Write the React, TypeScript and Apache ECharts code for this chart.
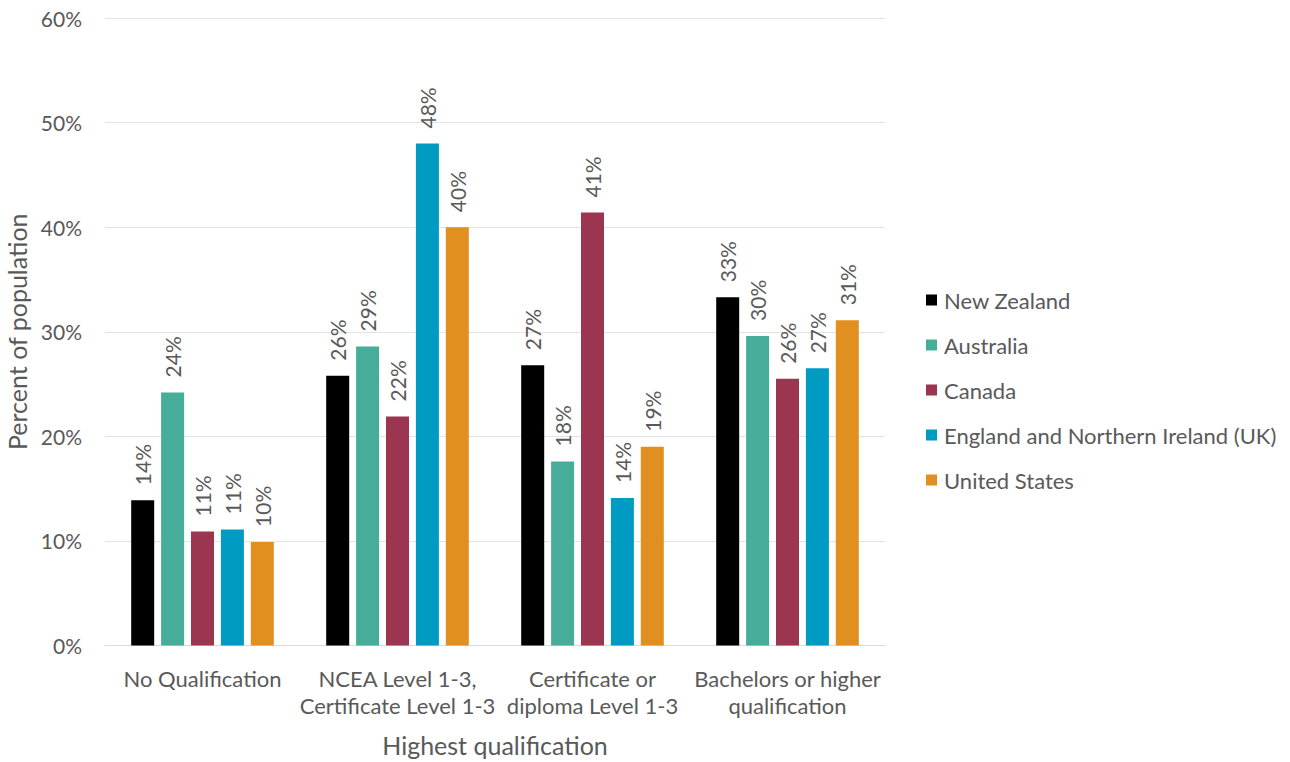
import React, { useEffect, useRef } from "react";
import * as echarts from "echarts";

const categories = [
  "No Qualification",
  "NCEA Level 1-3,\nCertificate Level 1-3",
  "Certificate or\ndiploma Level 1-3",
  "Bachelors or higher\nqualification",
];
const seriesNames = [
  "New Zealand",
  "Australia",
  "Canada",
  "England and Northern Ireland (UK)",
  "United States",
];
const newZealand = [13.9, 25.8, 26.8, 33.3];
const australia = [24.2, 28.6, 17.6, 29.6];
const canada = [10.9, 21.9, 41.4, 25.5];
const england = [11.1, 48.0, 14.1, 26.5];
const unitedStates = [9.9, 40.0, 19.0, 31.1];
const seriesValues = [newZealand, australia, canada, england, unitedStates];
const colors = ["#000000", "#47ad9b", "#9c3550", "#009bc3", "#e1901f"];
const yTicks = [0, 10, 20, 30, 40, 50, 60];

const TEXT = "#595959";
const FONT = "Lato";

export default function App() {
  const ref = useRef<HTMLDivElement>(null);
  useEffect(() => {
    if (!ref.current) return;
    const chart = echarts.init(ref.current, undefined, { renderer: "svg" });
    chart.setOption({
      animation: false,
      textStyle: { fontFamily: FONT },
      grid: { left: 105, right: 405, top: 18, bottom: 116.5, containLabel: false, outerBoundsMode: "none" },
      legend: {
        orient: "vertical",
        left: 926,
        top: 289,
        padding: 0,
        itemWidth: 11,
        itemHeight: 11,
        itemGap: 23,
        icon: "rect",
        textStyle: { color: TEXT, fontSize: 22, lineHeight: 20, fontFamily: FONT, padding: [0, 0, 0, 2] },
        data: seriesNames,
      },
      xAxis: {
        type: "category",
        data: categories,
        name: "Highest qualification",
        nameLocation: "middle",
        nameGap: 87,
        nameTextStyle: { color: TEXT, fontSize: 25, fontFamily: FONT },
        axisLine: { lineStyle: { color: "#d9d9d9", width: 1 } },
        axisTick: { show: false },
        axisLabel: { color: TEXT, fontSize: 22, lineHeight: 27, margin: 19, fontFamily: FONT, interval: 0 },
      },
      yAxis: {
        type: "value",
        min: yTicks[0],
        max: yTicks[yTicks.length - 1],
        interval: 10,
        name: "Percent of population",
        nameLocation: "middle",
        nameRotate: 90,
        nameGap: 75,
        nameTextStyle: { color: TEXT, fontSize: 25, fontFamily: FONT },
        axisLine: { show: false },
        axisTick: { show: false },
        splitLine: { lineStyle: { color: "#e3e3e3", width: 1 } },
        axisLabel: { color: TEXT, fontSize: 21, margin: 23, fontFamily: FONT, formatter: (v: number) => v + "%" },
      },
      series: seriesNames.map((name, i) => ({
        name,
        type: "bar",
        data: seriesValues[i],
        barWidth: 23,
        barGap: "30%",
        itemStyle: { color: colors[i] },
        label: {
          show: true,
          position: "top",
          rotate: 90,
          align: "left",
          verticalAlign: "middle",
          distance: 15,
          color: TEXT,
          fontSize: 21,
          fontFamily: FONT,
          formatter: (p: any) => Math.round(p.value) + "%",
        },
      })),
    });
    return () => chart.dispose();
  }, []);
  return <div ref={ref} style={{ position: "absolute", left: 0, top: 0, width: 1290, height: 762 }} />;
}
